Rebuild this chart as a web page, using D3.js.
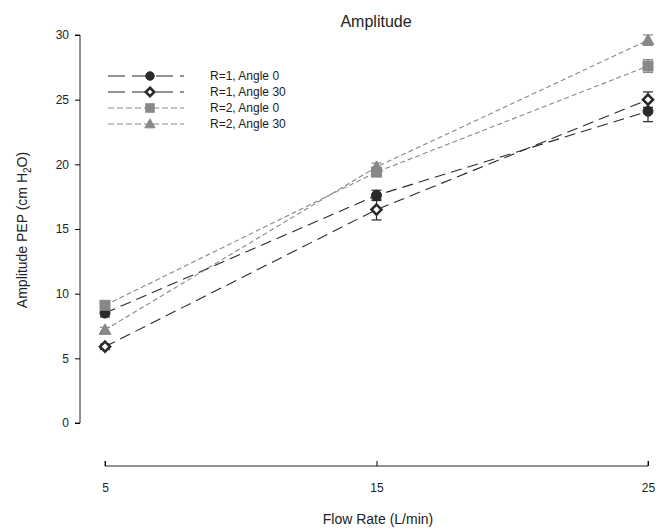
<!DOCTYPE html>
<html>
<head>
<meta charset="utf-8">
<script src="https://cdn.jsdelivr.net/npm/d3@7"></script>
<style>
  body { margin: 0; background: #fff; }
  text { font-family: "Liberation Sans", Arial, sans-serif; fill: #222; }
</style>
</head>
<body>
<svg id="chart" width="660" height="530"></svg>
<script>
// data
var flowRates = [5, 15, 25];
var yTicks = [0, 5, 10, 15, 20, 25, 30];
var seriesNames = ["R=1, Angle 0", "R=1, Angle 30", "R=2, Angle 0", "R=2, Angle 30"];
var r1a0 = [8.5, 17.6, 24.1];
var r1a30 = [5.9, 16.5, 25.0];
var r2a0 = [9.1, 19.4, 27.6];
var r2a30 = [7.2, 19.8, 29.6];
var r1a0Err = [0.3, 0.4, 0.8];
var r1a30Err = [0.2, 0.8, 0.6];
var r2a0Err = [0.3, 0.3, 0.5];
var r2a30Err = [0.2, 0.3, 0.4];

var w = 660, h = 530;
var svg = d3.select("#chart");

var x = d3.scaleLinear().domain([5, 25]).range([105, 648]);
var y = d3.scaleLinear().domain([0, 30]).range([423, 35]);

var series = [
  { name: seriesNames[0], values: r1a0, err: r1a0Err, color: "#2a2a2a", dash: "11,6", symbol: "circle", fill: "#2a2a2a" },
  { name: seriesNames[1], values: r1a30, err: r1a30Err, color: "#2a2a2a", dash: "11,6", symbol: "diamond", fill: "#fff" },
  { name: seriesNames[2], values: r2a0, err: r2a0Err, color: "#888", dash: "5,3", symbol: "square", fill: "#888" },
  { name: seriesNames[3], values: r2a30, err: r2a30Err, color: "#888", dash: "5,3", symbol: "triangle", fill: "#888" }
];

function drawMarker(g, s, cx, cy, k) {
  k = k || 1;
  if (s.symbol == "circle") {
    g.append("circle").attr("cx", cx).attr("cy", cy).attr("r", 5 * k)
      .attr("fill", s.fill).attr("stroke", s.color);
  } else if (s.symbol == "diamond") {
    var d = 5 * k;
    g.append("path")
      .attr("d", "M" + cx + "," + (cy - d) + "L" + (cx + d) + "," + cy + "L" + cx + "," + (cy + d) + "L" + (cx - d) + "," + cy + "Z")
      .attr("fill", s.fill).attr("stroke", s.color).attr("stroke-width", 2.6);
  } else if (s.symbol == "square") {
    var q = 5 * k;
    g.append("rect").attr("x", cx - q).attr("y", cy - q).attr("width", 2 * q).attr("height", 2 * q)
      .attr("fill", s.fill).attr("stroke", s.color);
  } else {
    var t = 6 * k;
    g.append("path")
      .attr("d", "M" + cx + "," + (cy - t) + "L" + (cx + t) + "," + (cy + 0.75 * t) + "L" + (cx - t) + "," + (cy + 0.75 * t) + "Z")
      .attr("fill", s.fill).attr("stroke", s.color);
  }
}

// title
svg.append("text").attr("x", 376).attr("y", 27).attr("text-anchor", "middle")
  .style("font-size", "16px").text("Amplitude");

// y axis
var yAxis = svg.append("g").attr("transform", "translate(80,0)")
  .call(d3.axisLeft(y).tickValues(yTicks).tickSize(5).tickPadding(6));
yAxis.select(".domain").attr("stroke", "#222").attr("d", "M-5," + y(30) + "H0V" + y(0) + "H-5");
yAxis.selectAll("text").style("font-size", "12px").style("font-family", "Liberation Sans, Arial, sans-serif");

// x axis (ticks upward, labels below)
var xAxis = svg.append("g").attr("transform", "translate(0,466)")
  .call(d3.axisTop(x).tickValues(flowRates).tickSize(5).tickPadding(-31));
xAxis.select(".domain").attr("stroke", "#222").attr("d", "M" + x(5) + ",-5V0H" + x(25) + "V-5");
xAxis.selectAll("text").style("font-size", "12px").style("font-family", "Liberation Sans, Arial, sans-serif");

// axis titles
svg.append("text").attr("x", 378).attr("y", 524).attr("text-anchor", "middle")
  .style("font-size", "14px").text("Flow Rate (L/min)");

var yl = svg.append("text").attr("transform", "translate(27,230) rotate(-90)")
  .attr("text-anchor", "middle").style("font-size", "14px");
yl.append("tspan").text("Amplitude PEP (cm H");
yl.append("tspan").attr("dy", 4).style("font-size", "10px").text("2");
yl.append("tspan").attr("dy", -4).text("O)");

// lines
var line = d3.line()
  .x(function(d, i) { return x(flowRates[i]); })
  .y(function(d) { return y(d); });

series.forEach(function(s) {
  svg.append("path").datum(s.values).attr("d", line)
    .attr("fill", "none").attr("stroke", s.color).attr("stroke-width", 1.1)
    .attr("stroke-dasharray", s.dash);
});

// error bars and markers
series.forEach(function(s) {
  var g = svg.append("g");
  for (var i = 0; i < s.values.length; i++) {
    var cx = x(flowRates[i]);
    var lo = y(s.values[i] - s.err[i]), hi = y(s.values[i] + s.err[i]);
    g.append("line").attr("x1", cx).attr("x2", cx).attr("y1", lo).attr("y2", hi)
      .attr("stroke", s.color).attr("stroke-width", 1.2);
    g.append("line").attr("x1", cx - 5).attr("x2", cx + 5).attr("y1", lo).attr("y2", lo)
      .attr("stroke", s.color).attr("stroke-width", 1.2);
    g.append("line").attr("x1", cx - 5).attr("x2", cx + 5).attr("y1", hi).attr("y2", hi)
      .attr("stroke", s.color).attr("stroke-width", 1.2);
    drawMarker(g, s, cx, y(s.values[i]));
  }
});

// legend
var legendY = [76, 92, 108, 124];
series.forEach(function(s, i) {
  var ly = legendY[i];
  var g = svg.append("g");
  g.append("line").attr("x1", 108).attr("x2", 184).attr("y1", ly).attr("y2", ly)
    .attr("stroke", s.color).attr("stroke-width", 1.1)
    .attr("stroke-dasharray", s.dash == "11,6" ? "17,7" : "6,3");
  drawMarker(g, s, 150, ly, 0.85);
  g.append("text").attr("x", 210).attr("y", ly + 4).style("font-size", "12px").text(s.name);
});
</script>
</body>
</html>
